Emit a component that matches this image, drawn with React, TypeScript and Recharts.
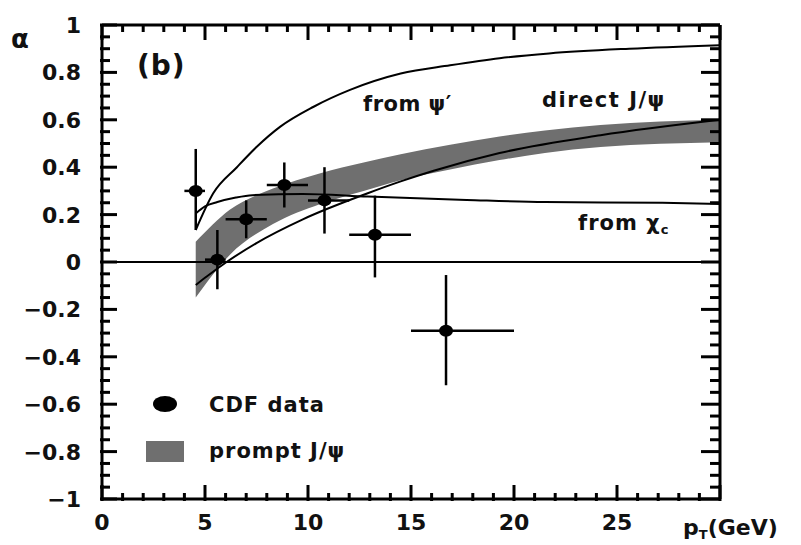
import {
  ComposedChart,
  Line,
  Area,
  Scatter,
  XAxis,
  YAxis,
  ErrorBar,
  ReferenceLine,
  Customized,
} from "recharts";

const FONT = "'DejaVu Sans', sans-serif";

// CDF polarization measurement, pT bins
const cdfPt = [4.55, 5.6, 7.0, 8.85, 10.8, 13.25, 16.7];
const cdfAlpha = [0.3, 0.01, 0.18, 0.325, 0.26, 0.115, -0.29];
const cdfPtLow = [4, 5, 6, 8, 10, 12, 15];
const cdfPtHigh = [5, 6, 8, 10, 12, 15, 20];
const cdfAlphaLow = [0.135, -0.115, 0.1, 0.23, 0.12, -0.065, -0.52];
const cdfAlphaHigh = [0.477, 0.135, 0.26, 0.42, 0.4, 0.28, -0.055];

// theory: from psi'
const psiPrimePt = [4.55, 5.4, 6.55, 7.5, 8.64, 10.25, 12.04, 14.5, 16.9, 19.3, 21.7, 25.6, 30];
const psiPrimeAlpha = [0.135, 0.29, 0.4, 0.485, 0.57, 0.654, 0.726, 0.795, 0.83, 0.86, 0.88, 0.9, 0.915];

// theory: from chi_c
const chiPt = [4.55, 5.0, 5.6, 6.5, 7.3, 9.75, 12.9, 17.7, 21.5, 27.2, 30];
const chiAlpha = [0.205, 0.235, 0.253, 0.272, 0.282, 0.287, 0.276, 0.262, 0.253, 0.25, 0.245];

// theory: direct J/psi
const directPt = [4.55, 5.1, 6.05, 7.5, 9.75, 12.9, 14.5, 16.1, 19.3, 24.2, 30];
const directAlpha = [-0.097, -0.06, 0.0, 0.08, 0.18, 0.29, 0.34, 0.385, 0.46, 0.535, 0.6];

// prompt J/psi band
const bandPt = [4.55, 6.2, 8.3, 10.6, 12.7, 14.5, 16.9, 19.3, 21.5, 24.2, 30];
const bandLow = [-0.15, 0.03, 0.16, 0.245, 0.3, 0.345, 0.39, 0.43, 0.46, 0.485, 0.505];
const bandHigh = [0.085, 0.22, 0.31, 0.375, 0.42, 0.455, 0.495, 0.53, 0.555, 0.578, 0.6];

// axes
const xMajorTicks = [0, 5, 10, 15, 20, 25, 30];
const xLabelTicks = [0, 5, 10, 15, 20, 25];
const yMajorTicks = [-1, -0.8, -0.6, -0.4, -0.2, 0, 0.2, 0.4, 0.6, 0.8, 1];
const xAllTicks = Array.from({ length: 31 }, (_, i) => i);
const yAllTicks = Array.from({ length: 41 }, (_, i) => Math.round((-1 + i * 0.05) * 100) / 100);

const PLOT_TOP = 25;
const PLOT_RIGHT = 720;

const cdfData = cdfPt.map((x, i) => ({
  x,
  y: cdfAlpha[i],
  ex: [x - cdfPtLow[i], cdfPtHigh[i] - x],
  ey: [cdfAlpha[i] - cdfAlphaLow[i], cdfAlphaHigh[i] - cdfAlpha[i]],
}));
const psiPrimeData = psiPrimePt.map((x, i) => ({ x, y: psiPrimeAlpha[i] }));
const chiData = chiPt.map((x, i) => ({ x, y: chiAlpha[i] }));
const directData = directPt.map((x, i) => ({ x, y: directAlpha[i] }));
const bandData = bandPt.map((x, i) => ({ x, band: [bandLow[i], bandHigh[i]] }));

const isMajor = (list: number[], v: number) => list.some((m) => Math.abs(m - v) < 1e-6);

const fmtY = (v: number) => (Math.abs(v) < 1e-6 ? "0" : v < 0 ? "\u2212" + String(-v) : String(v));

// inward ticks on bottom + top, label below
const XTick = ({ x, y, payload }: any) => {
  const v = payload.value;
  const major = isMajor(xMajorTicks, v);
  return (
    <g>
      <line x1={x} x2={x} y1={y} y2={y - (major ? 16 : 8)} stroke="#000" strokeWidth={3} />
      <line x1={x} x2={x} y1={PLOT_TOP} y2={PLOT_TOP + (major ? 15 : 7)} stroke="#000" strokeWidth={3} />
      {isMajor(xLabelTicks, v) && (
        <text x={x} y={y + 29} textAnchor="middle" fontFamily={FONT} fontWeight="bold" fontSize={22} fill="#111">
          {v}
        </text>
      )}
    </g>
  );
};

// inward ticks on left + right, label at left
const YTick = ({ x, y, payload }: any) => {
  const v = payload.value;
  const major = isMajor(yMajorTicks, v);
  return (
    <g>
      <line x1={x} x2={x + (major ? 17 : 10)} y1={y} y2={y} stroke="#000" strokeWidth={3} />
      <line x1={PLOT_RIGHT} x2={PLOT_RIGHT - (major ? 19 : 10)} y1={y} y2={y} stroke="#000" strokeWidth={3} />
      {major && (
        <text x={x - 19} y={y + 8} textAnchor="end" fontFamily={FONT} fontWeight="bold" fontSize={22} fill="#111">
          {fmtY(v)}
        </text>
      )}
    </g>
  );
};

const Labels = () => (
  <g fontFamily={FONT} fill="#111">
    <text x={11} y={48} fontSize={26} fontWeight="bold">α</text>
    <text x={137} y={75} fontSize={28} fontWeight="bold" letterSpacing={1}>(b)</text>
    <text x={363} y={111} fontSize={21} fontWeight="bold" letterSpacing={0.5}>from ψ′</text>
    <text x={542} y={107} fontSize={21} fontWeight="bold" letterSpacing={1.5}>direct J/ψ</text>
    <text x={578} y={230} fontSize={21} fontWeight="bold" letterSpacing={1}>
      from χ<tspan fontSize={13} dy={4}>c</tspan>
    </text>
    <text x={683} y={535} fontSize={22} fontWeight="bold">
      p<tspan fontSize={13} dy={4}>T</tspan>
      <tspan dy={-4}>(GeV)</tspan>
    </text>
    {/* legend */}
    <ellipse cx={165} cy={404} rx={12} ry={8} fill="#000" />
    <text x={209} y={412} fontSize={21} fontWeight="bold" letterSpacing={1}>CDF data</text>
    <rect x={146} y={441} width={38} height={21} fill="#6f6f6f" />
    <text x={209} y={458} fontSize={21} fontWeight="bold" letterSpacing={1}>prompt J/ψ</text>
  </g>
);

const Dot = (p: any) => <ellipse cx={p.cx} cy={p.cy} rx={7} ry={6} fill="#000" />;

export default function App() {
  return (
    <div style={{ position: "absolute", left: 0, top: 0, width: 801, height: 545, background: "#fff" }}>
      <ComposedChart width={801} height={545} margin={{ top: 25, right: 81, bottom: 0, left: 0 }}>
        <XAxis
          dataKey="x"
          type="number"
          domain={[0, 30]}
          ticks={xAllTicks}
          interval={0}
          tickSize={0}
          tickLine={false}
          tick={<XTick />}
          height={46}
          axisLine={{ stroke: "#000", strokeWidth: 3 }}
        />
        <YAxis
          type="number"
          domain={[-1, 1]}
          ticks={yAllTicks}
          interval={0}
          tickSize={0}
          tickLine={false}
          tick={<YTick />}
          width={102}
          axisLine={{ stroke: "#000", strokeWidth: 3 }}
        />
        <Area
          data={bandData}
          dataKey="band"
          type="monotone"
          fill="#6f6f6f"
          fillOpacity={1}
          stroke="none"
          isAnimationActive={false}
        />
        <ReferenceLine y={0} stroke="#000" strokeWidth={2} />
        <ReferenceLine y={1} stroke="#000" strokeWidth={3} />
        <ReferenceLine x={30} stroke="#000" strokeWidth={3} />
        <Line data={psiPrimeData} dataKey="y" type="monotone" stroke="#000" strokeWidth={2} dot={false} isAnimationActive={false} />
        <Line data={chiData} dataKey="y" type="monotone" stroke="#000" strokeWidth={2} dot={false} isAnimationActive={false} />
        <Line data={directData} dataKey="y" type="monotone" stroke="#000" strokeWidth={2} dot={false} isAnimationActive={false} />
        <Scatter data={cdfData} dataKey="y" shape={<Dot />} fill="#000" isAnimationActive={false}>
          <ErrorBar dataKey="ex" direction="x" width={0} stroke="#000" strokeWidth={2.5} />
          <ErrorBar dataKey="ey" direction="y" width={0} stroke="#000" strokeWidth={2.5} />
        </Scatter>
        <Customized component={<Labels />} />
      </ComposedChart>
    </div>
  );
}
